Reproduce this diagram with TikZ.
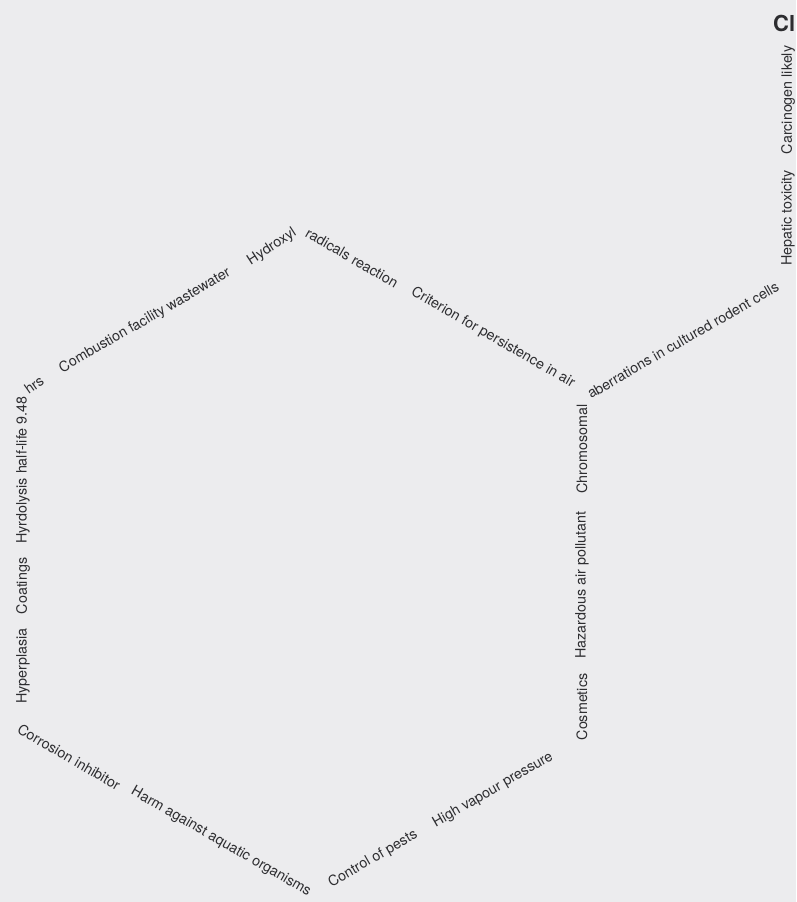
\documentclass[tikz,border=0pt]{standalone}
\usepackage{fontspec}
\setmainfont{TeX Gyre Heros}
\definecolor{bg}{RGB}{236,236,238}
\definecolor{ink}{RGB}{45,45,48}

\begin{document}
\begin{tikzpicture}[
    x=1pt, y=-1pt,
    lbl/.style={inner sep=0pt, text=ink, font=\fontsize{14.3}{16}\selectfont},
    risetext/.style={lbl, rotate=30},
    falltext/.style={lbl, rotate=-30},
    vuptext/.style={lbl, rotate=90},
    titletext/.style={inner sep=0pt, text=ink, font=\fontsize{22}{26}\selectfont\bfseries},
]

% Canvas
\fill[bg] (0,0) rectangle (796,902);
\useasboundingbox (0,0) rectangle (796,902);

% Title (cut at the right border)
\node[titletext, anchor=base west] (title) at (773,31) {Cl};

% Upper left edge
\node[risetext, rotate=5] (hrs) at (34,385) {hrs};
\node[risetext] (combustion) at (145,321) {Combustion facility wastewater};
\node[risetext, rotate=3] (hydroxyl) at (272,247) {Hydroxyl};

% Upper right edge
\node[falltext] (radicals) at (352,258) {radicals reaction};
\node[falltext] (criterion) at (493,338) {Criterion for persistence in air};

% Right edge
\node[vuptext] (chromosomal) at (582,449) {Chromosomal};
\node[vuptext] (hazardous) at (582,585) {Hazardous air pollutant};
\node[vuptext] (cosmetics) at (582,707) {Cosmetics};

% Lower right edge
\node[risetext] (vapour) at (493,790) {High vapour pressure};
\node[risetext] (pests) at (373,859) {Control of pests};

% Lower left edge
\node[falltext] (aquatic) at (221,842) {Harm against aquatic organisms};
\node[falltext] (corrosion) at (69,757) {Corrosion inhibitor};

% Left edge
\node[vuptext] (hyperplasia) at (23,666) {Hyperplasia};
\node[vuptext] (coatings) at (23,586) {Coatings};
\node[vuptext] (hydrolysis) at (23,470) {Hyrdolysis half-life 9.48};

% Outer branch
\node[risetext] (aberrations) at (683,340) {aberrations in cultured rodent cells};
\node[vuptext] (hepatic) at (788,218) {Hepatic toxicity};
\node[vuptext] (carcinogen) at (788,100) {Carcinogen likely};

\end{tikzpicture}
\end{document}
